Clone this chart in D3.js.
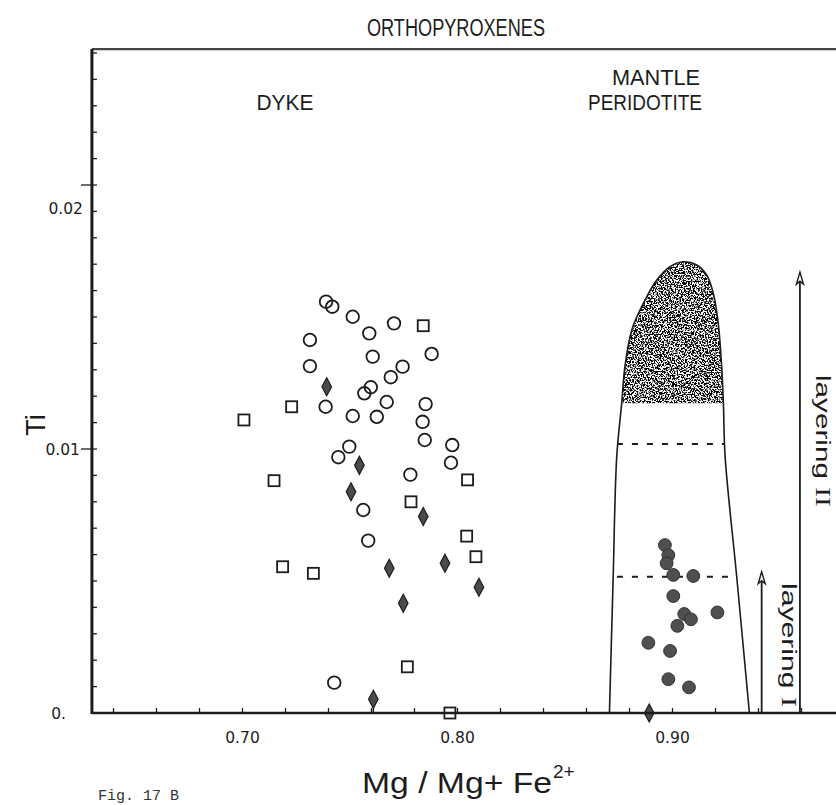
<!DOCTYPE html>
<html><head><meta charset="utf-8">
<script src="https://cdn.jsdelivr.net/npm/d3@7"></script>
<style>
html,body{margin:0;padding:0;background:#fff;}
svg{display:block;background:#fff;}
</style></head><body>
<svg id="chart" width="836" height="805"></svg>
<script>
// ---- Dyke orthopyroxenes (Mg/(Mg+Fe2+), Ti) ----
const dykeCircles = [
  [0.7391,0.01558],[0.7420,0.01539],[0.7515,0.01501],[0.7707,0.01476],[0.7592,0.01438],
  [0.7316,0.01413],[0.7882,0.01360],[0.7608,0.01350],[0.7747,0.01312],[0.7316,0.01314],
  [0.7692,0.01272],[0.7599,0.01234],[0.7569,0.01211],[0.7389,0.01160],[0.7673,0.01178],
  [0.7854,0.01170],[0.7515,0.01125],[0.7627,0.01122],[0.7840,0.01103],[0.7850,0.01034],
  [0.7499,0.01009],[0.7448,0.00969],[0.7978,0.01015],[0.7972,0.00948],[0.7783,0.00903],
  [0.7564,0.00769],[0.7587,0.00653],[0.7429,0.00115]
];
const dykeSquares = [
  [0.7843,0.01467],[0.7231,0.01160],[0.7009,0.01110],[0.7149,0.00880],[0.8049,0.00883],
  [0.7786,0.00800],[0.8045,0.00670],[0.8088,0.00592],[0.7189,0.00554],[0.7332,0.00529],
  [0.7769,0.00175],[0.7967,0.0]
];
const dykeDiamonds = [
  [0.7394,0.01236],[0.7546,0.00938],[0.7507,0.00838],[0.7843,0.00744],[0.7685,0.00548],
  [0.7944,0.00567],[0.8102,0.00476],[0.7750,0.00416],[0.7611,0.00052]
];
// ---- Mantle peridotite orthopyroxenes ----
const peridotiteDots = [
  [0.8967,0.00636],[0.8983,0.00598],[0.8975,0.00567],[0.9006,0.00523],[0.9099,0.00519],
  [0.9006,0.00443],[0.9057,0.00375],[0.9088,0.00355],[0.9211,0.00381],[0.9025,0.00330],
  [0.8890,0.00266],[0.8991,0.00235],[0.8983,0.00128],[0.9079,0.00097]
];
const peridotiteDiamonds = [[0.8894,0.0]];
// outline of the mantle peridotite field
const envelope = [
  [0.8709,0],[0.8726,0.00504],[0.8743,0.00971],[0.8766,0.01173],[0.8781,0.01312],
  [0.8813,0.01451],[0.8867,0.01552],[0.8929,0.01640],[0.8991,0.01691],[0.9053,0.01709],
  [0.9115,0.01697],[0.9161,0.01659],[0.9192,0.01590],[0.9215,0.01476],[0.9231,0.01312],
  [0.9239,0.01173],[0.9247,0.00971],[0.9301,0.00516],[0.9360,0]
];
const stippleFloor = 0.01173;          // lower limit of the stippled cap
const layerBreaks = [0.01019, 0.00516];  // dashed boundaries inside the field
const layeringArrows = [
  {x:0.9417, top:0.00535, label:"layering ", roman:"I"},
  {x:0.9595, top:0.0167, label:"layering ", roman:"II"}
];
// ---- axes ----
const xDomain = [0.6302, 0.9763];
const yDomain = [0, 0.02515];
const xTickValues = [0.64,0.66,0.68,0.70,0.72,0.74,0.76,0.78,0.80,0.82,0.84,0.86,0.88,0.90,0.92,0.94,0.96];
const xTickLabels = ["0.70","0.80","0.90"];
const yMajorTicks = [0, 0.01, 0.02];
const yTickLabels = ["0.", "0.01", "0.02"];
const yMinorTicks = [0.001,0.002,0.003,0.004,0.005,0.006,0.007,0.008,0.009,0.011,0.012,0.013,0.014,0.015,0.016,0.017,0.018,0.019,0.021,0.022,0.023,0.024,0.025];

const svg = d3.select("#chart");
const ink = "#1c1c1c";
const x = d3.scaleLinear().domain([0.70, 0.90]).range([242, 672]);
const y = d3.scaleLinear().domain([0, 0.01]).range([713, 449]);
const pLeft = x(xDomain[0]), pRight = x(xDomain[1]) + 10, pTop = y(yDomain[1]), pBottom = y(0);

const defs = svg.append("defs");
const filt = defs.append("filter").attr("id","stipple").attr("x",0).attr("y",0).attr("width","100%").attr("height","100%");
filt.append("feTurbulence").attr("type","fractalNoise").attr("baseFrequency",0.7).attr("numOctaves",2).attr("seed",7).attr("result","noise");
filt.append("feColorMatrix").attr("in","noise").attr("type","matrix")
  .attr("values","0 0 0 0 0  0 0 0 0 0  0 0 0 0 0  9 0 0 0 -4.0").attr("result","dots");
filt.append("feComposite").attr("in","dots").attr("in2","SourceGraphic").attr("operator","in");

const envLine = d3.line().x(d=>x(d[0])).y(d=>y(d[1])).curve(d3.curveCatmullRom.alpha(0.5));
defs.append("clipPath").attr("id","envClip").append("path").attr("d", envLine(envelope) + "Z");
defs.append("clipPath").attr("id","capClip").append("rect")
  .attr("x", pLeft).attr("y", pTop).attr("width", pRight-pLeft).attr("height", y(stippleFloor)-pTop);

// stippled cap of the peridotite field
svg.append("g").attr("clip-path","url(#capClip)")
  .append("path").attr("d", envLine(envelope) + "Z")
  .attr("fill","#1a1a1a").attr("filter","url(#stipple)");

// dashed layer boundaries
svg.append("g").attr("clip-path","url(#envClip)")
  .selectAll("line").data(layerBreaks).join("line")
  .attr("x1", pLeft).attr("x2", pRight).attr("y1", d=>y(d)).attr("y2", d=>y(d))
  .attr("stroke", ink).attr("stroke-width", 2).attr("stroke-dasharray","6,9");

// field outline
svg.append("path").attr("d", envLine(envelope)).attr("fill","none")
  .attr("stroke", ink).attr("stroke-width", 1.6);

// layering arrows
const arrows = svg.append("g");
layeringArrows.forEach(a => {
  const ax = x(a.x), at = y(a.top);
  arrows.append("line").attr("x1",ax).attr("x2",ax).attr("y1",pBottom).attr("y2",at+2)
    .attr("stroke",ink).attr("stroke-width",1.8);
  arrows.append("path").attr("d",`M${ax},${at} L${ax-3.5},${at+12} L${ax},${at+9} L${ax+3.5},${at+12} Z`)
    .attr("fill","#fff").attr("stroke",ink).attr("stroke-width",1.4);
});
const layerText = [
  {xb: 782, ys: 583, w: 124},
  {xb: 816, ys: 375, w: 132}
];
layeringArrows.forEach((a,i) => {
  const t = svg.append("text")
    .attr("transform", `translate(${layerText[i].xb},${layerText[i].ys}) rotate(90)`)
    .attr("font-family","Liberation Sans, Arial, sans-serif").attr("font-size",21).attr("fill",ink)
    .attr("textLength", layerText[i].w).attr("lengthAdjust","spacingAndGlyphs");
  t.append("tspan").text(a.label);
  t.append("tspan").attr("font-family","Liberation Serif, serif").text(a.roman);
});

// markers
svg.append("g").selectAll("circle").data(dykeCircles).join("circle")
  .attr("cx", d=>x(d[0])).attr("cy", d=>y(d[1])).attr("r", 6.3)
  .attr("fill","none").attr("stroke", ink).attr("stroke-width", 1.8);
svg.append("g").selectAll("rect").data(dykeSquares).join("rect")
  .attr("x", d=>x(d[0])-5.5).attr("y", d=>y(d[1])-5.5).attr("width",11).attr("height",11)
  .attr("fill","#fff").attr("stroke", ink).attr("stroke-width", 1.8);
const diamond = "M0,-9 L4.8,0 L0,9 L-4.8,0 Z";
const dg = svg.append("g");
dg.selectAll("line").data(dykeDiamonds.filter(d=>d[1] < 0.001)).join("line")
  .attr("x1", d=>x(d[0])).attr("x2", d=>x(d[0])).attr("y1", d=>y(d[1])).attr("y2", pBottom)
  .attr("stroke", ink).attr("stroke-width", 1.5);
dg.selectAll("path").data(dykeDiamonds.concat(peridotiteDiamonds)).join("path")
  .attr("transform", d=>`translate(${x(d[0])},${y(d[1])})`).attr("d", diamond)
  .attr("fill","#4a4a4a").attr("stroke", ink).attr("stroke-width", 1.2);
svg.append("g").selectAll("circle").data(peridotiteDots).join("circle")
  .attr("cx", d=>x(d[0])).attr("cy", d=>y(d[1])).attr("r", 6.4)
  .attr("fill","#4f4f4f").attr("stroke","#333").attr("stroke-width", 1);

// frame and axes
svg.append("line").attr("x1",pLeft).attr("x2",pRight).attr("y1",pTop).attr("y2",pTop)
  .attr("stroke","#444").attr("stroke-width",2.2);
const xAxis = d3.axisBottom(x).tickValues(xTickValues).tickSize(-5).tickSizeOuter(0)
  .tickPadding(19).tickFormat(d => { const s = d3.format(".2f")(d); return xTickLabels.includes(s) ? s : ""; });
const gx = svg.append("g").attr("transform",`translate(0,${pBottom})`).call(xAxis);
gx.select(".domain").attr("d", `M${pLeft},0H${pRight}`).attr("stroke", ink).attr("stroke-width",2.6);
gx.selectAll(".tick line").attr("stroke", ink).attr("stroke-width",1.3);
gx.selectAll(".tick text").attr("font-family","DejaVu Sans, sans-serif").attr("font-size",15.5).attr("fill",ink);

const gy = svg.append("g").attr("transform",`translate(${pLeft},0)`);
gy.append("line").attr("x1",0).attr("x2",0).attr("y1",pTop).attr("y2",pBottom+1)
  .attr("stroke", ink).attr("stroke-width",3);
gy.selectAll(".minor").data(yMinorTicks).join("line").attr("class","minor")
  .attr("x1",0).attr("x2",5).attr("y1",d=>y(d)).attr("y2",d=>y(d)).attr("stroke",ink).attr("stroke-width",1.3);
gy.selectAll(".major").data(yMajorTicks.filter(d=>d>0)).join("line").attr("class","major")
  .attr("x1",-11).attr("x2",5).attr("y1",d=>y(d)).attr("y2",d=>y(d)).attr("stroke",ink).attr("stroke-width",1.3);
const yLabelShift = [0, 0, 23];
const yLabelRight = [-26, -12, -9];
gy.selectAll(".ylab").data(yMajorTicks).join("text").attr("class","ylab")
  .attr("x", (d,i)=>yLabelRight[i]).attr("y", (d,i)=>y(d)+yLabelShift[i]).attr("dy","0.36em")
  .attr("text-anchor","end").attr("font-family","DejaVu Sans, sans-serif").attr("font-size",15.5)
  .attr("fill",ink).text((d,i)=>yTickLabels[i]);

// titles
const sans = "Liberation Sans, Arial, sans-serif";
function label(txt, cx, by, size, w){
  return svg.append("text").attr("x",cx).attr("y",by).attr("text-anchor","middle")
    .attr("font-family",sans).attr("font-size",size).attr("fill",ink)
    .attr("textLength",w).attr("lengthAdjust","spacingAndGlyphs").text(txt);
}
label("ORTHOPYROXENES", 456, 36, 23, 178);
label("DYKE", 285, 110, 22, 57);
label("MANTLE", 656, 85, 22, 88);
label("PERIDOTITE", 645, 110, 22, 114);

// axis titles
svg.append("text").attr("transform","translate(45,425) rotate(-90)").attr("text-anchor","middle")
  .attr("font-family",sans).attr("font-size",27).attr("fill",ink).text("Ti");
svg.append("text").attr("x",362).attr("y",793).attr("font-family",sans)
  .attr("font-size",30).attr("fill",ink)
  .attr("textLength",190).attr("lengthAdjust","spacingAndGlyphs").text("Mg / Mg+ Fe");
svg.append("text").attr("x",553).attr("y",778).attr("font-family",sans)
  .attr("font-size",19).attr("fill",ink).text("2+");

svg.append("text").attr("x",98).attr("y",800).attr("font-family","Liberation Mono, monospace")
  .attr("font-size",15).attr("fill","#333").text("Fig. 17 B");
</script>
</body></html>
